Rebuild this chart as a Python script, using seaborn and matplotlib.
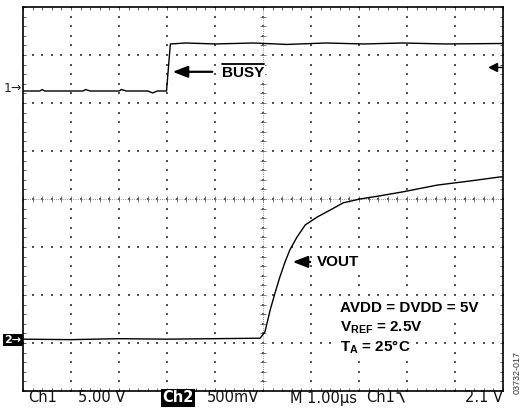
import numpy as np
import matplotlib
matplotlib.use('Agg')
import matplotlib.pyplot as plt
import seaborn as sns

# scope traces, time in us (1 us/div), amplitude in divisions from screen centre
busy_time = [0.0, 0.35, 0.4, 0.45, 1.25, 1.3, 1.4, 2.0, 2.05, 2.15, 2.6, 2.7, 2.8,
             2.99, 3.07, 3.4, 4.0, 4.8, 5.5, 6.3, 7.1, 7.9, 8.8, 10.0]
busy_div = [2.25, 2.25, 2.28, 2.25, 2.25, 2.28, 2.25, 2.25, 2.28, 2.25, 2.25, 2.21, 2.25,
            2.25, 3.23, 3.25, 3.23, 3.25, 3.22, 3.25, 3.23, 3.25, 3.23, 3.24]

vout_time = [0.0, 1.0, 2.0, 3.0, 4.0, 4.94, 5.04, 5.15, 5.25, 5.35, 5.46, 5.56, 5.71,
             5.88, 6.13, 6.40, 6.67, 7.02, 7.40, 7.92, 8.63, 9.31, 9.94, 10.0]
vout_div = [-2.92, -2.93, -2.91, -2.92, -2.91, -2.90, -2.77, -2.31, -1.96, -1.63, -1.31,
            -1.06, -0.79, -0.54, -0.375, -0.23, -0.08, 0.0, 0.06, 0.15, 0.29, 0.375, 0.46, 0.46]

ch1_ground = 2.31
ch2_ground = -2.94
trigger_level = 2.75

status_labels = ['Ch1', '5.00 V', 'Ch2', '500mV', 'M 1.00\u00b5s', 'Ch1', '2.1 V']
status_x = [28, 78, 162, 207, 290, 366, 465]

sns.set_style('white')
plt.rcParams['font.family'] = ['Liberation Sans', 'DejaVu Sans']
plt.rcParams['mathtext.fontset'] = 'custom'
plt.rcParams['mathtext.rm'] = 'Liberation Sans:bold'
plt.rcParams['mathtext.bf'] = 'Liberation Sans:bold'
plt.rcParams['mathtext.it'] = 'Liberation Sans:bold'

W, H = 521, 408
fig = plt.figure(figsize=(W / 100, H / 100), dpi=100)
ax = fig.add_axes([23 / W, 17 / H, 480 / W, 384 / H])
ax.set_xlim(0, 10)
ax.set_ylim(-4, 4)

# dotted graticule
minor = np.arange(0, 10.001, 0.2)
minor_y = np.arange(-4, 4.001, 0.2)
dot = dict(s=0.7, marker='s', color='#555555', linewidths=0, zorder=1)
gx, gy = np.meshgrid(np.arange(1, 10), minor_y)
ax.scatter(gx.ravel(), gy.ravel(), **dot)
gx, gy = np.meshgrid(minor, np.arange(-3, 4))
ax.scatter(gx.ravel(), gy.ravel(), **dot)

# centre lines with ticks
ax.axhline(0, color='#777777', lw=0.6, ls=(0, (1, 1.6)), zorder=1)
ax.axvline(5, color='#777777', lw=0.6, ls=(0, (1, 1.6)), zorder=1)
ax.vlines(minor, -0.06, 0.06, color='#666666', lw=0.6, zorder=1)
ax.hlines(minor_y, 4.94, 5.06, color='#666666', lw=0.6, zorder=1)

ax.set_xticks(np.arange(0, 11, 1))
ax.set_yticks(np.arange(-4, 5, 1))
ax.set_xticks(minor, minor=True)
ax.set_yticks(minor_y, minor=True)
ax.tick_params(which='both', direction='in', length=2, width=0.6, color='#444444',
               top=True, right=True, bottom=True, left=True,
               labelbottom=False, labelleft=False)
for s in ax.spines.values():
    s.set_color('black')
    s.set_linewidth(1.2)

sns.lineplot(x=busy_time, y=busy_div, color='black', linewidth=1.0, ax=ax, zorder=3)
sns.lineplot(x=vout_time, y=vout_div, color='black', linewidth=1.0, ax=ax, zorder=3)

# annotations
white = dict(fc='white', ec='none', pad=0.6)
arrow = dict(arrowstyle='-|>,head_length=0.9,head_width=0.35', color='black', lw=1.6)
ax.annotate('', xy=(3.06, 2.65), xytext=(4.0, 2.65), arrowprops=arrow)
busy = ax.text(4.15, 2.62, 'BUSY', fontsize=11, fontweight='bold', va='center', ha='left',
               color='black', bbox=white, zorder=4)
ax.annotate('', xy=(5.56, -1.31), xytext=(6.04, -1.31), arrowprops=arrow)
ax.text(6.13, -1.31, 'VOUT', fontsize=11, fontweight='bold', va='center', ha='left',
        color='black', bbox=white, zorder=4)
ax.text(6.6, -2.27, 'AVDD = DVDD = 5V', fontsize=11, fontweight='bold', va='center',
        color='black', bbox=white, zorder=4)
ax.text(6.6, -2.69, r'V$_{\mathrm{REF}}$ = 2.5V', fontsize=11, fontweight='bold',
        va='center', color='black', bbox=white, zorder=4)
ax.text(6.6, -3.10, r'T$_{\mathrm{A}}$ = 25°C', fontsize=11, fontweight='bold',
        va='center', color='black', bbox=white, zorder=4)

# overline on BUSY
fig.canvas.draw()
bb = busy.get_window_extent()
ax.add_line(plt.Line2D([bb.x0, bb.x1], [bb.y1 + 2, bb.y1 + 2], transform=None,
                       color='black', lw=1.3, zorder=5))

# channel markers
ax.text(-0.03, ch1_ground, '1\u2192', fontsize=9, ha='right', va='center',
        family='DejaVu Sans', clip_on=False)
ax.text(-0.03, ch2_ground, '2\u2192', fontsize=8, fontweight='bold', ha='right', va='center',
        color='white', family='DejaVu Sans', clip_on=False,
        bbox=dict(boxstyle='square,pad=0.1', fc='black', ec='none'))
ax.plot([9.8], [trigger_level], marker='<', color='black', markersize=6, clip_on=False, zorder=4)
ax.plot([9.85, 10.0], [trigger_level, trigger_level], color='black', lw=1.0, zorder=4)

# status line
for i, (lab, px) in enumerate(zip(status_labels, status_x)):
    kw = dict(fontsize=10.5, family='DejaVu Sans', va='center', ha='left', color='#111111')
    if i == 2:
        kw.update(color='white', fontweight='bold',
                  bbox=dict(boxstyle='square,pad=0.08', fc='black', ec='none'))
    fig.text(px / W, 1 - 398 / H, lab, **kw)

# falling edge trigger symbol
fig.add_artist(plt.Line2D([397 / W, 400 / W, 404 / W], [1 - 393 / H, 1 - 393 / H, 1 - 402 / H],
                          color='#111111', lw=1.1))

fig.text(517 / W, 1 - 372 / H, '03732-017', rotation=90, fontsize=6.5, ha='center',
         va='center', color='#333333')

fig.savefig('out.png', dpi=100)
